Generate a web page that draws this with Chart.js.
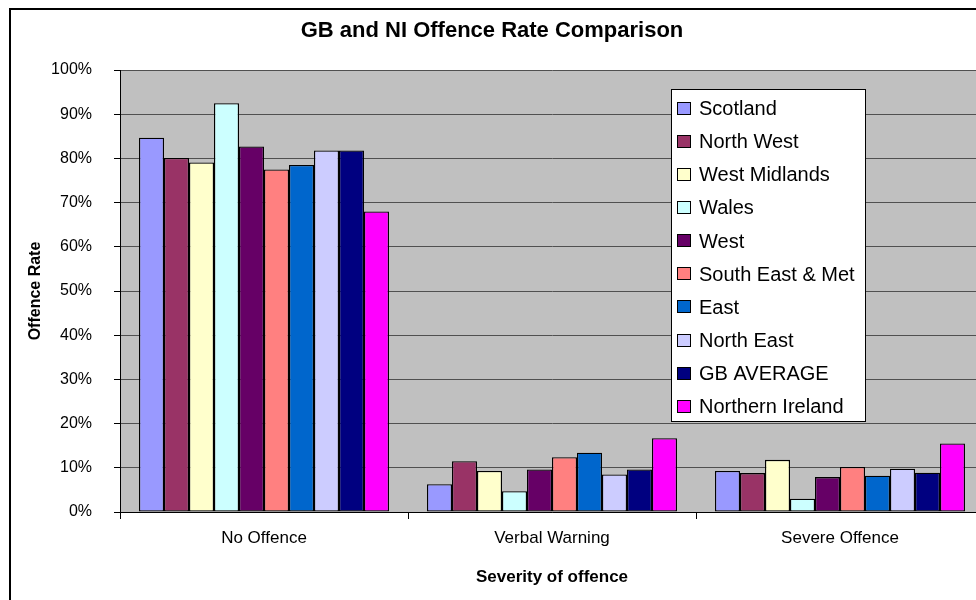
<!DOCTYPE html>
<html>
<head>
<meta charset="utf-8">
<title>GB and NI Offence Rate Comparison</title>
<script src="https://cdn.jsdelivr.net/npm/chart.js@4/dist/chart.umd.min.js"></script>
<style>
  html, body { margin: 0; padding: 0; background: #fff; overflow: hidden; }
  #wrap { position: absolute; left: 0; top: 0; width: 990px; height: 612px; }
</style>
</head>
<body>
<div id="wrap"><canvas id="chart" width="990" height="612"></canvas></div>
<script>
// data (percent)
const categories = ['No Offence', 'Verbal Warning', 'Severe Offence'];
const regions = ['Scotland', 'North West', 'West Midlands', 'Wales', 'West',
  'South East & Met', 'East', 'North East', 'GB AVERAGE', 'Northern Ireland'];
const scotland = [84.7, 6.3, 9.3];
const northWest = [80.1, 11.5, 8.8];
const westMidlands = [79.1, 9.3, 11.8];
const wales = [92.5, 4.7, 3.0];
const west = [82.7, 9.6, 7.9];
const southEastMet = [77.5, 12.4, 10.2];
const east = [78.5, 13.4, 8.2];
const northEast = [81.8, 8.5, 9.8];
const gbAverage = [81.8, 9.6, 8.9];
const northernIreland = [68.0, 16.7, 15.5];
const yTicks = [0, 10, 20, 30, 40, 50, 60, 70, 80, 90, 100];

const seriesValues = [scotland, northWest, westMidlands, wales, west,
  southEastMet, east, northEast, gbAverage, northernIreland];
const colors = ['#9999FF', '#993366', '#FFFFCC', '#CCFFFF', '#660066',
  '#FF8080', '#0066CC', '#CCCCFF', '#000080', '#FF00FF'];

const FONT = "'Liberation Sans', Arial, sans-serif";

// grey plot area + outer frame
const backdrop = {
  id: 'backdrop',
  beforeDraw(chart) {
    const { ctx, chartArea: a } = chart;
    ctx.save();
    ctx.fillStyle = '#fff';
    ctx.fillRect(0, 0, chart.width, chart.height);
    ctx.fillStyle = '#C0C0C0';
    ctx.fillRect(a.left, a.top, a.right - a.left, a.bottom - a.top);
    ctx.strokeStyle = '#000';
    ctx.lineWidth = 2;
    ctx.strokeRect(10, 9, chart.width + 20, chart.height + 20);
    ctx.restore();
  }
};

// legend box drawn inside the plot, like the Excel one
const boxLegend = {
  id: 'boxLegend',
  afterDraw(chart) {
    const { ctx } = chart;
    const sets = chart.data.datasets;
    const x0 = 671, y0 = 89, w = 194, h = 332;
    ctx.save();
    ctx.fillStyle = '#fff';
    ctx.fillRect(x0, y0, w, h);
    ctx.strokeStyle = '#000';
    ctx.lineWidth = 1;
    ctx.strokeRect(x0 + 0.5, y0 + 0.5, w, h);
    ctx.font = '20px ' + FONT;
    ctx.textBaseline = 'middle';
    sets.forEach((ds, i) => {
      const cy = 108.5 + i * 33.15;
      ctx.fillStyle = ds.backgroundColor;
      ctx.fillRect(677, Math.round(cy - 7), 14, 13);
      ctx.strokeStyle = '#000';
      ctx.strokeRect(677.5, Math.round(cy - 7) + 0.5, 13, 12);
      ctx.fillStyle = '#000';
      ctx.fillText(ds.label, 699, cy + 1);
    });
    ctx.restore();
  }
};

new Chart(document.getElementById('chart'), {
  type: 'bar',
  data: {
    labels: categories,
    datasets: regions.map((name, i) => ({
      label: name,
      data: seriesValues[i],
      backgroundColor: colors[i],
      borderColor: '#000',
      borderWidth: 1.3,
      borderSkipped: false,
      categoryPercentage: 0.868,
      barPercentage: 1.0
    }))
  },
  options: {
    responsive: false,
    animation: false,
    layout: { padding: { left: 0, right: 6, top: 0, bottom: 0 } },
    plugins: {
      legend: { display: false },
      tooltip: { enabled: false },
      title: {
        display: true,
        text: 'GB and NI Offence Rate Comparison',
        color: '#000',
        font: { family: FONT, size: 22, weight: 'bold' },
        padding: { top: 18, bottom: 25.6 }
      }
    },
    scales: {
      x: {
        grid: { display: true, drawOnChartArea: false, offset: true, tickLength: 7, tickColor: '#000' },
        border: { color: '#000', width: 1 },
        ticks: { color: '#000', padding: 9, font: { family: FONT, size: 17 } },
        title: {
          display: true,
          text: 'Severity of offence',
          color: '#000',
          font: { family: FONT, size: 17, weight: 'bold' },
          padding: 24
        },
        afterFit(scale) { scale.height = 100; }
      },
      y: {
        min: 0,
        max: 100,
        afterBuildTicks(scale) { scale.ticks = yTicks.map(v => ({ value: v })); },
        grid: { color: '#505050', tickLength: 6, tickColor: '#000' },
        border: { color: '#000', width: 1 },
        ticks: {
          color: '#000',
          padding: 22,
          font: { family: FONT, size: 16 },
          callback: v => v + '%'
        },
        title: {
          display: true,
          text: 'Offence Rate',
          color: '#000',
          font: { family: FONT, size: 16, weight: 'bold' },
          padding: 26
        },
        afterFit(scale) { scale.width = 120; }
      }
    }
  },
  plugins: [backdrop, boxLegend]
});
</script>
</body>
</html>
